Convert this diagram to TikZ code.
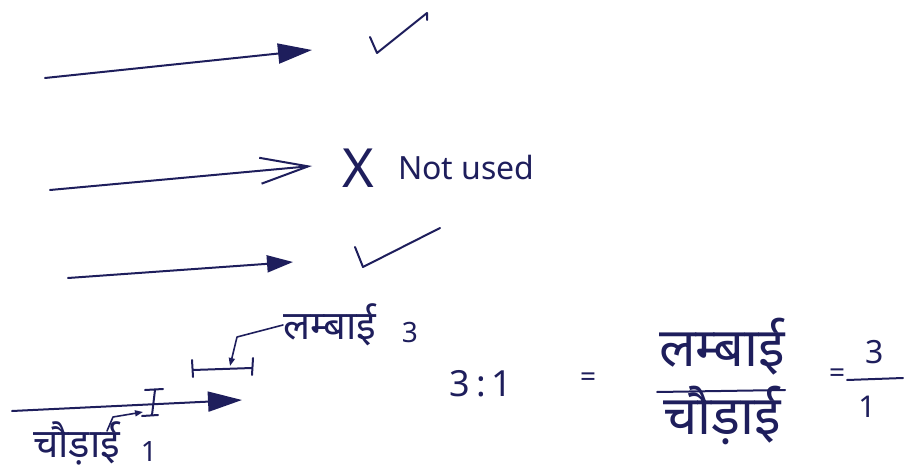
\documentclass[tikz,border=0pt]{standalone}
\usepackage{fontspec}
\setmainfont{Noto Sans}
\newfontfamily\hindifont[Script=Devanagari]{Noto Sans}
\usetikzlibrary{
  arrows.meta,
  positioning,
  calc
}
\definecolor{inkBlue}{HTML}{1E1E5C}
\tikzset{
  ink/.style={draw=inkBlue, line width=2pt, line cap=round, line join=round},
  solidarrow/.style={ink, -{Triangle[length=34pt, width=20pt]}},
  smallhead/.style={-{Triangle[length=26pt, width=17pt]}},
  openarrow/.style={ink, -{Straight Barb[length=48pt, width=26pt, line width=2pt]}},
  leader/.style={ink, line width=1.6pt, -{Triangle[length=8pt, width=6pt]}},
  inktext/.style={text=inkBlue, inner sep=0pt},
  hinditxt/.style={inktext, font=\hindifont\fontsize{40}{42}\selectfont},
  bighindi/.style={inktext, font=\hindifont\fontsize{54}{56}\selectfont},
  numtxt/.style={inktext, font=\fontsize{28}{30}\selectfont}
}
\begin{document}
\begin{tikzpicture}[x=1pt, y=-1pt, node distance=24pt]
  \useasboundingbox (0,0) rectangle (904,470);
  % the four arrows
  \coordinate (s1) at (45,78);  \coordinate (e1) at (312,50);
  \coordinate (s2) at (50,190); \coordinate (e2) at (312,166);
  \coordinate (s3) at (68,278); \coordinate (e3) at (293,262);
  \coordinate (s4) at (12,411); \coordinate (e4) at (242,400);
  \draw[solidarrow] (s1) -- (e1);
  \draw[openarrow] (s2) -- (e2);
  \draw[solidarrow, smallhead] (s3) -- (e3);
  \draw[solidarrow] (s4) -- (e4);
  % ticks and cross
  \draw[ink] (370,37) -- (377,53) -- (427,13) -- (427,20);
  \draw[ink] (355,247) -- (363,267) -- (440,228);
  \node[inktext, font=\fontsize{54}{54}\selectfont] (cross) at (358,168) {X};
  \node[inktext, right=of cross, font=\fontsize{32}{34}\selectfont] (notused) {Not used};
  % width and length marks
  \draw[ink] (145,390) -- (163,389) (155,390) -- (152,415) (142,416) -- (158,415);
  \draw[ink] (192,360) -- (193,377) (193,370) -- (252,368) (253,358) -- (252,375);
  \coordinate (wmid) at (143,412);
  \coordinate (lmid) at (230,366);
  \node[hinditxt, anchor=west] (lenlbl) at (283,325) {लम्बाई};
  \node[numtxt] (lennum) at (410,333) {3};
  \node[hinditxt, anchor=west] (widlbl) at (33,443) {चौड़ाई};
  \node[numtxt] (widnum) at (149,452) {1};
  \coordinate (hook) at (107,431);
  \draw[leader] (lenlbl.west) -- (237,337) -- (lmid);
  \draw[leader] (hook) -- (113,417) -- (wmid);
  % ratio
  \node[inktext, font=\fontsize{36}{38}\selectfont] (ratio) at (481,384) {3\,:\,1};
  \node[inktext, font=\fontsize{28}{30}\selectfont] (eqa) at (588,380) {=};
  \node[bighindi] (fraclen) at (722,347) {लम्बाई};
  \node[bighindi] (fracwid) at (722,415) {चौड़ाई};
  \coordinate (fl1) at (657,392); \coordinate (fl2) at (785,390);
  \draw[ink] (fl1) -- (fl2);
  \node[inktext, font=\fontsize{28}{30}\selectfont] (eqb) at (837,376) {=};
  \node[inktext, font=\fontsize{32}{34}\selectfont] (numtop) at (875,352) {3};
  \node[inktext, font=\fontsize{30}{32}\selectfont] (numbot) at (867,407) {1};
  \coordinate (fr1) at (847,380); \coordinate (fr2) at (903,378);
  \draw[ink] (fr1) -- (fr2);
\end{tikzpicture}
\end{document}
